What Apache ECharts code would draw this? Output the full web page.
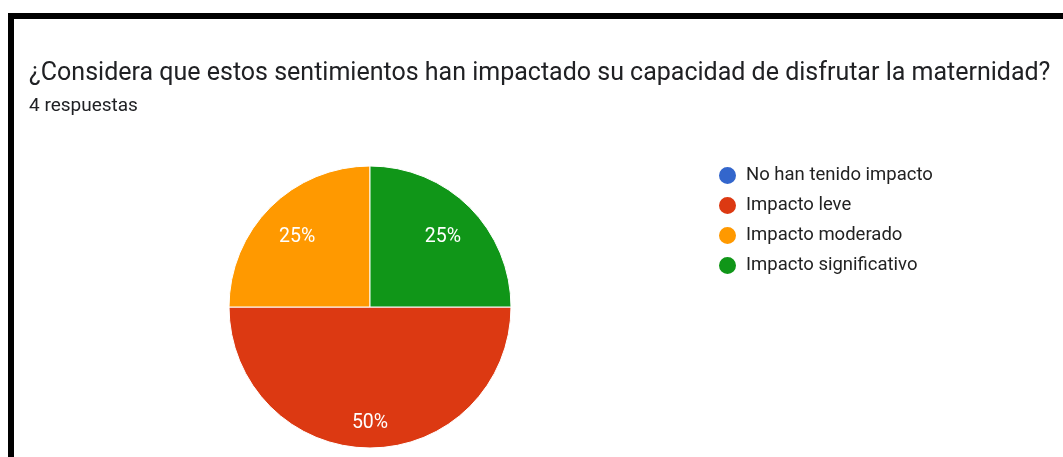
<!DOCTYPE html>
<html>
<head>
<meta charset="utf-8">
<script src="https://cdn.jsdelivr.net/npm/echarts@6/dist/echarts.min.js"></script>
<style>
  html, body { margin: 0; padding: 0; background: #fff; }
  .frame {
    position: absolute;
    left: 8px;
    top: 13px;
    right: 0;
    bottom: 0;
    border-top: 6px solid #000;
    border-left: 6px solid #000;
  }
  #chart {
    position: absolute;
    left: 0;
    top: 0;
    width: 1063px;
    height: 457px;
  }
</style>
</head>
<body>
<div class="frame"></div>
<div id="chart"></div>
<script>
var titleText = '¿Considera que estos sentimientos han impactado su capacidad de disfrutar la maternidad?'
var subText = '4 respuestas'
var categories = ['No han tenido impacto', 'Impacto leve', 'Impacto moderado', 'Impacto significativo']
var counts = [0, 2, 1, 1]
var colors = ['#3366cc', '#dc3912', '#ff9900', '#109618']

var pieData = categories.map(function(name, i) {
  return { name: name, value: counts[i] }
})

var myChart = echarts.init(document.getElementById('chart'))

var option = {
  backgroundColor: 'transparent',
  color: colors,
  animation: false,
  title: {
    text: titleText,
    subtext: subText,
    left: 24,
    top: 56,
    itemGap: 11,
    textStyle: {
      fontFamily: 'Roboto',
      fontSize: 25,
      fontWeight: 'normal',
      color: '#202124'
    },
    subtextStyle: {
      fontFamily: 'Roboto',
      fontSize: 19,
      color: '#202124'
    }
  },
  legend: {
    orient: 'vertical',
    left: 717,
    top: 165,
    padding: 0,
    icon: 'circle',
    itemWidth: 19,
    itemHeight: 19,
    itemGap: 9,
    selectedMode: false,
    textStyle: {
      fontFamily: 'Roboto',
      fontSize: 18.5,
      lineHeight: 19,
      color: '#222',
      padding: [0, 0, 0, 4]
    },
    data: categories
  },
  series: [
    // 主饼图
    {
      type: 'pie',
      center: [370, 307],
      radius: [0, 141],
      startAngle: 0,
      clockwise: true,
      silent: true,
      label: { show: false },
      labelLine: { show: false },
      itemStyle: {
        borderColor: '#fff',
        borderWidth: 1
      },
      data: pieData
    },
    // 百分比标签 (透明的环, 只为放标签)
    {
      type: 'pie',
      center: [370, 307],
      radius: [70, 130],
      startAngle: 0,
      clockwise: true,
      silent: true,
      legendHoverLink: false,
      itemStyle: { color: 'transparent' },
      labelLine: { show: false },
      label: {
        show: true,
        position: 'inside',
        fontFamily: 'Roboto',
        fontSize: 19.5,
        color: '#fff',
        formatter: function(p) {
          return p.value === 0 ? '' : Math.round(p.percent) + '%'
        }
      },
      // 大扇区的标签放得更靠外
      labelLayout: function(p) {
        return { dy: counts[p.dataIndex] > 1 ? 13 : 3 }
      },
      data: pieData
    }
  ]
}

myChart.setOption(option)
</script>
</body>
</html>
